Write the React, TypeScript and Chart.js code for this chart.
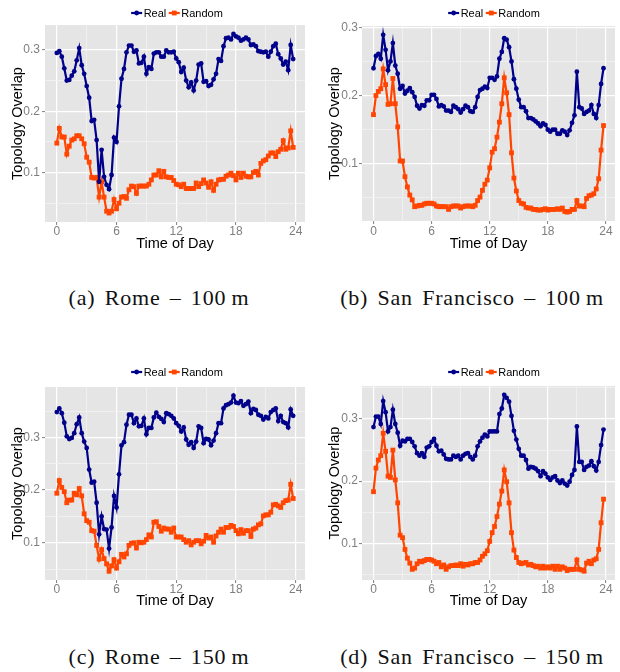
import React, { useEffect, useRef } from "react";
import { Chart, registerables } from "chart.js";

Chart.register(...registerables);

// ---------- data ----------
const HOURS = [
  0, 0.25, 0.5, 0.75, 1, 1.25, 1.5, 1.75, 2, 2.25, 2.5, 2.75,
  3, 3.25, 3.5, 3.75, 4, 4.25, 4.5, 4.75, 5, 5.25, 5.5, 5.75,
  6, 6.25, 6.5, 6.75, 7, 7.25, 7.5, 7.75, 8, 8.25, 8.5, 8.75,
  9, 9.25, 9.5, 9.75, 10, 10.25, 10.5, 10.75, 11, 11.25, 11.5, 11.75,
  12, 12.25, 12.5, 12.75, 13, 13.25, 13.5, 13.75, 14, 14.25, 14.5, 14.75,
  15, 15.25, 15.5, 15.75, 16, 16.25, 16.5, 16.75, 17, 17.25, 17.5, 17.75,
  18, 18.25, 18.5, 18.75, 19, 19.25, 19.5, 19.75, 20, 20.25, 20.5, 20.75,
  21, 21.25, 21.5, 21.75, 22, 22.25, 22.5, 22.75, 23, 23.25, 23.5, 23.75,
];

const ROME_100_REAL = [
  0.295, 0.298, 0.289, 0.270, 0.250, 0.251, 0.258, 0.265, 0.283, 0.303, 0.275, 0.261,
  0.241, 0.222, 0.184, 0.186, 0.153, 0.085, 0.137, 0.093, 0.080, 0.073, 0.096, 0.157,
  0.150, 0.208, 0.253, 0.269, 0.296, 0.307, 0.307, 0.297, 0.299, 0.278, 0.279, 0.289,
  0.261, 0.272, 0.269, 0.294, 0.296, 0.296, 0.289, 0.289, 0.299, 0.296, 0.296, 0.297,
  0.286, 0.280, 0.264, 0.271, 0.250, 0.239, 0.247, 0.234, 0.250, 0.276, 0.278, 0.248,
  0.249, 0.241, 0.243, 0.252, 0.261, 0.285, 0.282, 0.306, 0.319, 0.320, 0.317, 0.326,
  0.322, 0.320, 0.315, 0.317, 0.320, 0.317, 0.308, 0.309, 0.306, 0.298, 0.297, 0.296,
  0.297, 0.289, 0.297, 0.306, 0.310, 0.293, 0.286, 0.276, 0.281, 0.267, 0.308, 0.285,
];
const ROME_100_RANDOM = [
  0.148, 0.172, 0.158, 0.158, 0.130, 0.143, 0.153, 0.155, 0.160, 0.160, 0.155, 0.147,
  0.125, 0.117, 0.092, 0.091, 0.092, 0.060, 0.085, 0.060, 0.037, 0.034, 0.037, 0.056,
  0.041, 0.050, 0.060, 0.061, 0.058, 0.072, 0.078, 0.077, 0.066, 0.078, 0.078, 0.078,
  0.078, 0.081, 0.088, 0.096, 0.096, 0.103, 0.093, 0.102, 0.093, 0.092, 0.092, 0.087,
  0.081, 0.080, 0.077, 0.081, 0.074, 0.074, 0.074, 0.074, 0.083, 0.077, 0.082, 0.088,
  0.083, 0.076, 0.085, 0.071, 0.081, 0.088, 0.089, 0.089, 0.094, 0.096, 0.099, 0.095,
  0.088, 0.099, 0.092, 0.099, 0.094, 0.093, 0.093, 0.100, 0.102, 0.096, 0.115, 0.119,
  0.121, 0.127, 0.132, 0.132, 0.126, 0.134, 0.138, 0.152, 0.138, 0.140, 0.168, 0.141,
];
const SF_100_REAL = [
  0.240, 0.258, 0.261, 0.254, 0.289, 0.267, 0.237, 0.250, 0.277, 0.244, 0.232, 0.210,
  0.214, 0.203, 0.207, 0.211, 0.205, 0.198, 0.185, 0.181, 0.186, 0.185, 0.193, 0.193,
  0.201, 0.201, 0.195, 0.184, 0.186, 0.184, 0.178, 0.178, 0.176, 0.185, 0.183, 0.180,
  0.175, 0.180, 0.185, 0.183, 0.177, 0.176, 0.183, 0.198, 0.208, 0.210, 0.213, 0.211,
  0.226, 0.226, 0.223, 0.228, 0.254, 0.264, 0.284, 0.282, 0.271, 0.250, 0.224, 0.210,
  0.194, 0.183, 0.183, 0.177, 0.167, 0.167, 0.165, 0.162, 0.159, 0.155, 0.159, 0.157,
  0.150, 0.147, 0.150, 0.150, 0.144, 0.144, 0.149, 0.147, 0.142, 0.149, 0.160, 0.171,
  0.235, 0.183, 0.181, 0.173, 0.176, 0.178, 0.186, 0.173, 0.167, 0.186, 0.217, 0.240,
];
const SF_100_RANDOM = [
  0.172, 0.200, 0.206, 0.210, 0.239, 0.216, 0.187, 0.188, 0.225, 0.188, 0.154, 0.104,
  0.104, 0.081, 0.066, 0.054, 0.047, 0.037, 0.038, 0.039, 0.039, 0.041, 0.042, 0.042,
  0.042, 0.041, 0.038, 0.037, 0.037, 0.037, 0.037, 0.033, 0.037, 0.038, 0.038, 0.038,
  0.035, 0.037, 0.038, 0.038, 0.038, 0.037, 0.039, 0.046, 0.051, 0.061, 0.070, 0.076,
  0.094, 0.117, 0.122, 0.139, 0.161, 0.188, 0.226, 0.204, 0.172, 0.116, 0.079, 0.060,
  0.046, 0.042, 0.041, 0.036, 0.035, 0.035, 0.033, 0.033, 0.032, 0.032, 0.033, 0.034,
  0.032, 0.033, 0.033, 0.033, 0.034, 0.033, 0.035, 0.030, 0.029, 0.030, 0.033, 0.033,
  0.046, 0.038, 0.038, 0.037, 0.049, 0.053, 0.054, 0.056, 0.063, 0.078, 0.120, 0.156,
];
const ROME_150_REAL = [
  0.348, 0.355, 0.346, 0.328, 0.302, 0.297, 0.299, 0.308, 0.325, 0.338, 0.308, 0.292,
  0.280, 0.239, 0.214, 0.216, 0.176, 0.116, 0.150, 0.126, 0.125, 0.089, 0.129, 0.189,
  0.167, 0.230, 0.285, 0.291, 0.324, 0.343, 0.343, 0.327, 0.336, 0.321, 0.322, 0.336,
  0.306, 0.318, 0.318, 0.338, 0.347, 0.339, 0.335, 0.329, 0.346, 0.344, 0.341, 0.336,
  0.327, 0.322, 0.311, 0.319, 0.296, 0.286, 0.291, 0.280, 0.292, 0.321, 0.318, 0.289,
  0.297, 0.296, 0.285, 0.294, 0.308, 0.327, 0.327, 0.355, 0.361, 0.363, 0.366, 0.379,
  0.366, 0.365, 0.369, 0.360, 0.363, 0.368, 0.346, 0.354, 0.352, 0.343, 0.341, 0.334,
  0.339, 0.336, 0.348, 0.352, 0.355, 0.331, 0.341, 0.329, 0.327, 0.319, 0.353, 0.341,
];
const ROME_150_RANDOM = [
  0.194, 0.218, 0.205, 0.197, 0.176, 0.181, 0.181, 0.194, 0.191, 0.203, 0.189, 0.155,
  0.142, 0.139, 0.123, 0.122, 0.095, 0.069, 0.087, 0.070, 0.060, 0.046, 0.056, 0.068,
  0.052, 0.064, 0.078, 0.073, 0.079, 0.095, 0.099, 0.100, 0.090, 0.101, 0.100, 0.101,
  0.106, 0.115, 0.111, 0.139, 0.140, 0.131, 0.122, 0.128, 0.126, 0.126, 0.120, 0.128,
  0.111, 0.111, 0.111, 0.106, 0.101, 0.104, 0.096, 0.101, 0.104, 0.104, 0.098, 0.103,
  0.114, 0.109, 0.111, 0.101, 0.113, 0.120, 0.126, 0.120, 0.129, 0.129, 0.133, 0.131,
  0.123, 0.117, 0.125, 0.118, 0.123, 0.123, 0.112, 0.126, 0.128, 0.134, 0.136, 0.151,
  0.153, 0.153, 0.158, 0.172, 0.173, 0.170, 0.167, 0.176, 0.180, 0.181, 0.211, 0.184,
];
const SF_150_REAL = [
  0.287, 0.304, 0.304, 0.292, 0.329, 0.311, 0.280, 0.287, 0.315, 0.292, 0.278, 0.257,
  0.265, 0.264, 0.268, 0.268, 0.263, 0.256, 0.245, 0.241, 0.245, 0.239, 0.254, 0.256,
  0.263, 0.268, 0.257, 0.248, 0.249, 0.243, 0.236, 0.235, 0.235, 0.241, 0.239, 0.241,
  0.235, 0.241, 0.244, 0.245, 0.239, 0.235, 0.241, 0.256, 0.264, 0.270, 0.275, 0.272,
  0.280, 0.280, 0.280, 0.280, 0.308, 0.317, 0.339, 0.334, 0.328, 0.305, 0.281, 0.267,
  0.252, 0.241, 0.241, 0.234, 0.220, 0.223, 0.222, 0.220, 0.216, 0.208, 0.216, 0.212,
  0.206, 0.202, 0.206, 0.208, 0.201, 0.197, 0.201, 0.196, 0.193, 0.199, 0.210, 0.218,
  0.288, 0.231, 0.231, 0.218, 0.223, 0.225, 0.232, 0.224, 0.217, 0.231, 0.258, 0.283,
];
const SF_150_RANDOM = [
  0.183, 0.221, 0.234, 0.241, 0.277, 0.248, 0.208, 0.206, 0.250, 0.202, 0.165, 0.113,
  0.109, 0.090, 0.076, 0.068, 0.058, 0.060, 0.067, 0.071, 0.070, 0.072, 0.074, 0.074,
  0.073, 0.071, 0.067, 0.069, 0.062, 0.065, 0.058, 0.062, 0.064, 0.064, 0.065, 0.064,
  0.067, 0.063, 0.066, 0.065, 0.067, 0.067, 0.069, 0.069, 0.073, 0.079, 0.083, 0.088,
  0.103, 0.117, 0.127, 0.143, 0.163, 0.184, 0.218, 0.199, 0.165, 0.117, 0.089, 0.077,
  0.069, 0.067, 0.068, 0.069, 0.065, 0.066, 0.064, 0.062, 0.063, 0.060, 0.063, 0.060,
  0.062, 0.060, 0.063, 0.058, 0.063, 0.058, 0.062, 0.060, 0.056, 0.058, 0.058, 0.058,
  0.073, 0.058, 0.057, 0.055, 0.068, 0.071, 0.067, 0.073, 0.075, 0.090, 0.133, 0.171,
];

const SERIES_LABELS = ["Real", "Random"];
const X_TICKS = [0, 3, 6, 9, 12, 15, 18, 21, 24];
const Y_TICKS = [0.05, 0.1, 0.15, 0.2, 0.25, 0.3, 0.35, 0.4];
const X_TITLE = "Time of Day";
const Y_TITLE = "Topology Overlap";
const CAPTIONS = [
  "(a) Rome \u2013 100\u2009m",
  "(b) San Francisco \u2013 100\u2009m",
  "(c) Rome \u2013 150\u2009m",
  "(d) San Francisco \u2013 150\u2009m",
];

// ---------- styles ----------
const REAL_COLOR = "#00008B";
const RANDOM_COLOR = "#FF4500";
const PANEL_BG = "#E5E5E5";
const SANS = '"Liberation Sans", Arial, sans-serif';

type Layout = {
  left: number; top: number; width: number; height: number;
  plotLeft: number; plotRight: number; plotTop: number; plotBottom: number;
  legendCx: number; legendCy: number; yTitleCx: number; tickCy: number; xTitleCy: number;
};

const LAYOUTS: Layout[] = [
  { left: 0, top: 0, width: 310, height: 255, plotLeft: 45, plotRight: 305, plotTop: 25, plotBottom: 222, legendCx: 177, legendCy: 13, yTitleCx: 18, tickCy: 232, xTitleCy: 243.5 },
  { left: 310, top: 0, width: 310, height: 255, plotLeft: 52, plotRight: 305, plotTop: 26, plotBottom: 221, legendCx: 184, legendCy: 13, yTitleCx: 25, tickCy: 232, xTitleCy: 243.5 },
  { left: 0, top: 358, width: 310, height: 255, plotLeft: 45, plotRight: 305, plotTop: 29, plotBottom: 222, legendCx: 177, legendCy: 14, yTitleCx: 18, tickCy: 232, xTitleCy: 243 },
  { left: 310, top: 358, width: 310, height: 255, plotLeft: 52, plotRight: 305, plotTop: 28, plotBottom: 222, legendCx: 184, legendCy: 14, yTitleCx: 25, tickCy: 232, xTitleCy: 243 },
];
const CAPTION_POS = [
  { cx: 159, cy: 298 },
  { cx: 472, cy: 298 },
  { cx: 159, cy: 657 },
  { cx: 472, cy: 657 },
];

const isMajorX = (v: number) => Math.abs(v % 6) < 1e-9;
const isMajorY = (v: number) => Math.abs(v * 10 - Math.round(v * 10)) < 1e-6;

const bgPlugin = {
  id: "panelBg",
  beforeDraw(chart: any) {
    const { ctx, chartArea } = chart;
    ctx.save();
    ctx.fillStyle = PANEL_BG;
    ctx.fillRect(chartArea.left, chartArea.top, chartArea.right - chartArea.left, chartArea.bottom - chartArea.top);
    ctx.restore();
  },
};

const legendPlugin = {
  id: "ggLegend",
  afterDraw(chart: any, _args: any, opts: any) {
    const ctx = chart.ctx;
    ctx.save();
    ctx.font = `11px ${SANS}`;
    const keyW = 11;
    const gapText = 1.5;
    const gapItem = 2.5;
    const items = chart.data.datasets.map((ds: any) => ({
      text: ds.label,
      color: ds.borderColor,
      style: ds.pointStyle,
      r: ds.pointRadius,
    }));
    const widths = items.map((it: any) => keyW + gapText + ctx.measureText(it.text).width);
    const total = widths.reduce((a: number, b: number) => a + b, 0) + gapItem * (items.length - 1);
    let x = opts.cx - total / 2;
    const y = opts.cy;
    items.forEach((it: any, i: number) => {
      ctx.strokeStyle = it.color;
      ctx.fillStyle = it.color;
      ctx.lineWidth = 2.2;
      ctx.beginPath();
      ctx.moveTo(x, y);
      ctx.lineTo(x + keyW, y);
      ctx.stroke();
      const mx = x + keyW / 2;
      if (it.style === "rect") {
        const s = it.r * Math.SQRT1_2;
        ctx.fillRect(mx - s, y - s, 2 * s, 2 * s);
      } else {
        ctx.beginPath();
        ctx.arc(mx, y, it.r, 0, Math.PI * 2);
        ctx.fill();
      }
      ctx.fillStyle = "#000000";
      ctx.textBaseline = "middle";
      ctx.textAlign = "left";
      ctx.fillText(it.text, x + keyW + gapText, y + 0.5);
      x += widths[i] + gapItem;
    });
    ctx.restore();
  },
};

function Panel({ real, random, layout }: { real: number[]; random: number[]; layout: Layout }) {
  const ref = useRef<HTMLCanvasElement | null>(null);
  useEffect(() => {
    if (!ref.current) return;
    const all = real.concat(random);
    const lo = Math.min(...all);
    const hi = Math.max(...all);
    const yPad = (hi - lo) * 0.05;
    const xLo = HOURS[0];
    const xHi = HOURS[HOURS.length - 1];
    const xPad = (xHi - xLo) * 0.05;
    const L = layout;
    const titleLH = 14.5 * 1.2;
    const tickLH = 12 * 1.2;

    const chart = new Chart(ref.current, {
      type: "line",
      data: {
        datasets: [
          {
            label: SERIES_LABELS[0],
            data: HOURS.map((h, i) => ({ x: h, y: real[i] })),
            borderColor: REAL_COLOR,
            backgroundColor: REAL_COLOR,
            pointBackgroundColor: REAL_COLOR,
            pointBorderWidth: 0,
            pointRadius: 2.4,
            pointStyle: "circle",
            borderWidth: 2.2,
            tension: 0,
          },
          {
            label: SERIES_LABELS[1],
            data: HOURS.map((h, i) => ({ x: h, y: random[i] })),
            borderColor: RANDOM_COLOR,
            backgroundColor: RANDOM_COLOR,
            pointBackgroundColor: RANDOM_COLOR,
            pointBorderWidth: 0,
            pointRadius: 3.4,
            pointStyle: "rect",
            borderWidth: 2.2,
            tension: 0,
          },
        ],
      },
      options: {
        responsive: false,
        animation: false,
        devicePixelRatio: 1,
        layout: { padding: { left: 0, right: L.width - L.plotRight, top: L.plotTop, bottom: 0 } },
        plugins: {
          legend: { display: false },
          tooltip: { enabled: false },
          // @ts-ignore
          ggLegend: { cx: L.legendCx, cy: L.legendCy },
        },
        scales: {
          x: {
            type: "linear",
            min: xLo - xPad,
            max: xHi + xPad,
            afterBuildTicks: (s: any) => {
              s.ticks = X_TICKS.map((v) => ({ value: v }));
            },
            afterFit: (s: any) => {
              s.height = L.height - L.plotBottom;
            },
            border: { display: false },
            grid: {
              color: (c: any) => (isMajorX(c.tick.value) ? "#FFFFFF" : "#F2F2F2"),
              lineWidth: (c: any) => (isMajorX(c.tick.value) ? 1.2 : 0.8),
              tickColor: (c: any) => (isMajorX(c.tick.value) ? "#7F7F7F" : "rgba(0,0,0,0)"),
              tickLength: 3,
              tickWidth: 1,
              drawTicks: true,
            },
            ticks: {
              autoSkip: false,
              maxRotation: 0,
              minRotation: 0,
              padding: L.tickCy - L.plotBottom - 3 - tickLH / 2,
              color: "#7F7F7F",
              font: { family: SANS, size: 12 },
              callback: (v: any) => (isMajorX(Number(v)) ? String(v) : ""),
            },
            title: {
              display: true,
              text: X_TITLE,
              color: "#000000",
              font: { family: SANS, size: 14.5 },
              padding: { top: 0, bottom: L.height - L.xTitleCy - titleLH / 2 },
            },
          },
          y: {
            type: "linear",
            min: lo - yPad,
            max: hi + yPad,
            afterBuildTicks: (s: any) => {
              s.ticks = Y_TICKS.filter((v) => v >= s.min && v <= s.max).map((v) => ({ value: v }));
            },
            afterFit: (s: any) => {
              s.width = L.plotLeft;
            },
            border: { display: false },
            grid: {
              color: (c: any) => (isMajorY(c.tick.value) ? "#FFFFFF" : "#F2F2F2"),
              lineWidth: (c: any) => (isMajorY(c.tick.value) ? 1.2 : 0.8),
              tickColor: (c: any) => (isMajorY(c.tick.value) ? "#7F7F7F" : "rgba(0,0,0,0)"),
              tickLength: 3,
              tickWidth: 1,
              drawTicks: true,
            },
            ticks: {
              autoSkip: false,
              padding: L.plotLeft > 48 ? 1 : 2,
              color: "#7F7F7F",
              font: { family: SANS, size: 12 },
              callback: (v: any) => (isMajorY(Number(v)) ? Number(v).toFixed(1) : ""),
            },
            title: {
              display: true,
              text: Y_TITLE,
              color: "#000000",
              font: { family: SANS, size: 14.5 },
              padding: { top: L.yTitleCx - titleLH / 2, bottom: 0 },
            },
          },
        },
      },
      plugins: [bgPlugin, legendPlugin],
    } as any);
    return () => chart.destroy();
  }, [real, random, layout]);

  return (
    <canvas
      ref={ref}
      width={layout.width}
      height={layout.height}
      style={{ position: "absolute", left: layout.left, top: layout.top, width: layout.width, height: layout.height }}
    />
  );
}

export default function App() {
  const panels = [
    { real: ROME_100_REAL, random: ROME_100_RANDOM },
    { real: SF_100_REAL, random: SF_100_RANDOM },
    { real: ROME_150_REAL, random: ROME_150_RANDOM },
    { real: SF_150_REAL, random: SF_150_RANDOM },
  ];
  return (
    <div style={{ position: "absolute", left: 0, top: 0, width: 620, height: 672, background: "#FFFFFF", overflow: "hidden" }}>
      {panels.map((p, i) => (
        <Panel key={i} real={p.real} random={p.random} layout={LAYOUTS[i]} />
      ))}
      {CAPTIONS.map((c, i) => (
        <div
          key={"cap" + i}
          style={{
            position: "absolute",
            left: CAPTION_POS[i].cx - 160,
            top: CAPTION_POS[i].cy - 15,
            width: 320,
            height: 30,
            lineHeight: "30px",
            textAlign: "center",
            fontFamily: '"Liberation Serif", "Times New Roman", serif',
            fontSize: 22,
            letterSpacing: 0.8,
            wordSpacing: 3,
            color: "#111111",
            whiteSpace: "pre",
          }}
        >
          {c}
        </div>
      ))}
    </div>
  );
}
